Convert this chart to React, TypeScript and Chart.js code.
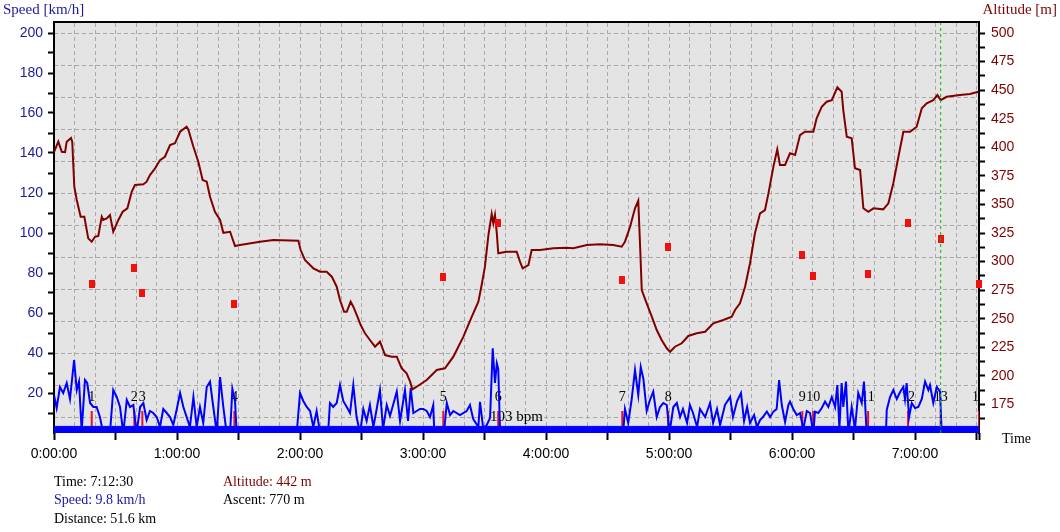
import React, { useEffect, useRef } from "react";
import { Chart, registerables } from "chart.js";

Chart.register(...registerables);

// ---------- data (time in minutes) ----------
const altitudeTime = [
  0, 2.1, 3.8, 5.4, 6.2, 8.3, 8.9, 9.9, 11.1, 13.0,
  14.8, 16.7, 18.4, 20.0, 21.6, 23.3, 24.0, 25.7, 27.3, 28.9,
  31.4, 33.5, 35.8, 37.9, 39.5, 43.6, 45.2, 46.8, 49.3, 51.7,
  54.1, 56.6, 59.0, 61.5, 64.7, 65.5, 68.0, 70.4, 72.5, 74.5,
  76.1, 78.5, 81.0, 82.6, 85.9, 88.3, 90.7, 100.5, 107.0, 119.2,
  120.3, 122.4, 126.5, 129.8, 133.0, 135.5, 137.9, 139.5, 141.5, 142.8,
  144.7, 146.0, 148.0, 149.6, 151.7, 154.1, 156.6, 159.0, 161.5, 164.7,
  167.2, 169.6, 172.0, 173.7, 174.8, 176.9, 181.8, 186.7, 190.7, 194.8,
  199.7, 203.8, 207.0, 208.6, 210.2, 211.9, 213.5, 214.3, 215.1, 216.0,
  216.7, 220.8, 225.7, 227.3, 228.6, 231.4, 233.0, 237.1, 243.6, 250.1,
  253.3, 259.9, 266.3, 272.8, 276.9, 278.5, 281.0, 283.4, 285.0, 285.9,
  286.7, 289.1, 291.6, 294.0, 296.4, 298.9, 300.5, 302.9, 306.2, 309.4,
  313.5, 317.6, 321.6, 326.5, 330.6, 332.2, 334.6, 337.1, 339.5, 341.9,
  344.4, 346.8, 348.5, 350.9, 352.8, 354.1, 356.6, 359.0, 361.5, 363.9,
  366.3, 370.4, 372.0, 374.5, 376.9, 379.4, 382.1, 384.2, 385.0, 386.7,
  389.1, 390.7, 393.2, 394.8, 397.2, 399.7, 404.5, 407.0, 409.4, 411.9,
  414.3, 417.6, 420.8, 423.3, 425.7, 428.9, 430.9, 432.5, 435.4, 441.9,
  446.8, 450.9,
];
const altitudeM = [
  395.8, 404.9, 396.1, 395.8, 404.9, 408.1, 404.9, 365.5, 353.9, 339.2,
  339.2, 320.3, 317.4, 321.7, 322.4, 339.2, 336.4, 337.8, 340.7, 326.1,
  336.4, 343.6, 346.6, 361.1, 367.0, 367.6, 369.9, 375.7, 381.6, 388.8,
  391.7, 402.0, 403.5, 413.6, 418.0, 415.7, 400.5, 387.4, 371.4, 369.9,
  356.7, 343.6, 336.4, 325.2, 326.1, 313.6, 314.5, 317.4, 318.9, 318.2,
  310.1, 301.4, 294.1, 291.1, 291.1, 286.8, 278.0, 266.4, 256.1, 256.1,
  264.9, 260.5, 251.8, 244.5, 237.2, 231.4, 225.5, 229.9, 218.2, 216.8,
  216.8, 206.6, 202.2, 194.9, 188.2, 190.5, 196.4, 205.1, 206.6, 216.8,
  234.3, 251.8, 264.9, 279.5, 295.5, 323.2, 341.6, 333.5, 340.7, 324.7,
  307.2, 308.6, 308.6, 299.9, 294.1, 297.0, 310.1, 310.1, 311.6, 312.1,
  311.6, 314.5, 315.1, 314.5, 313.0, 317.4, 330.5, 346.6, 353.2, 313.0,
  275.1, 263.5, 251.8, 240.1, 231.4, 224.1, 221.1, 225.5, 228.5, 234.9,
  237.2, 238.6, 246.0, 248.9, 251.8, 257.6, 263.5, 278.0, 298.5, 324.7,
  342.2, 345.1, 359.7, 383.0, 398.2, 384.5, 384.5, 394.7, 393.2, 410.7,
  413.6, 413.6, 425.3, 435.5, 439.9, 441.3, 452.5, 448.6, 432.6, 409.2,
  407.8, 381.6, 380.1, 346.6, 343.6, 346.6, 345.7, 351.0, 368.5, 391.7,
  413.6, 413.6, 418.0, 434.1, 438.5, 441.3, 445.7, 441.3, 444.2, 445.7,
  446.6, 448.6,
];

const speedTime = [
  0, 1.3, 2.9, 4.5, 6.2, 7.8, 9.8, 11.1, 12.2, 13.5,
  15.1, 16.2, 17.6, 19.2, 20.8, 22.4, 24.0, 25.7, 27.3, 28.9,
  30.6, 32.2, 33.8, 35.5, 37.1, 38.7, 40.3, 42.0, 43.6, 45.2,
  46.8, 48.4, 50.1, 51.7, 53.3, 55.0, 56.6, 58.2, 59.9, 61.5,
  63.1, 64.7, 66.3, 68.0, 69.6, 71.2, 72.8, 74.5, 76.1, 77.7,
  79.4, 81.0, 82.6, 84.2, 85.9, 87.0, 88.3, 89.1, 118.4, 120.0,
  121.6, 123.3, 124.9, 126.5, 128.1, 129.8, 133.7, 134.6, 136.2, 137.9,
  139.5, 141.1, 142.8, 144.4, 146.0, 147.6, 149.3, 150.9, 152.5, 154.1,
  155.8, 157.4, 159.0, 160.5, 162.3, 163.9, 165.4, 167.2, 168.8, 170.2,
  171.2, 172.7, 174.0, 175.3, 176.9, 178.5, 180.1, 181.8, 183.4, 185.0,
  185.5, 190.2, 191.6, 193.2, 194.8, 198.0, 201.3, 202.9, 204.5, 207.0,
  207.8, 209.4, 211.1, 212.7, 214.0, 215.1, 216.0, 216.7, 217.6, 277.6,
  278.5, 280.1, 281.8, 283.4, 285.0, 286.2, 287.5, 289.1, 290.7, 292.3,
  294.0, 295.6, 297.2, 298.9, 300.2, 302.1, 303.8, 305.4, 306.8, 308.8,
  310.2, 311.7, 313.7, 315.1, 317.6, 320.0, 321.5, 323.4, 324.9, 327.3,
  329.8, 331.2, 333.2, 335.1, 336.6, 338.1, 339.5, 341.5, 342.9, 344.4,
  345.8, 347.7, 349.3, 350.9, 352.5, 353.7, 355.0, 356.6, 358.2, 359.0,
  360.6, 362.3, 363.9, 365.5, 367.2, 368.8, 370.4, 371.2, 372.8, 374.5,
  376.1, 377.7, 379.4, 381.0, 382.1, 383.1, 384.2, 385.0, 386.3, 387.5,
  389.1, 390.7, 392.3, 394.0, 395.1, 396.4, 405.8, 406.2, 407.8, 409.4,
  411.1, 412.7, 414.3, 415.1, 415.9, 417.1, 418.4, 420.0, 421.6, 423.3,
  424.9, 426.5, 427.3, 428.9, 430.6, 432.2, 433.0, 451.2,
];
const speedKmh = [
  19, 12.5, 23, 20, 25, 17, 36.5, 21.5, 25.7, 1,
  26.5, 25, 15, 13, 13, 8, 0, 2, 0, 21.5,
  18, 13, 0, 16.5, 13, 14, 0, 13, 15, 6.5,
  11, 10, 8, 3, 12, 10, 8, 4, 12, 20,
  13, 8, 3, 18, 3, 13, 5, 23, 25.7, 13,
  0, 28, 13, 0, 0, 22, 16, 0, 0, 20,
  16, 13, 11, 3, 11, 0, 0, 15, 13, 15,
  24, 16, 13, 10, 24, 8, 0, 12, 6, 14,
  3, 12, 21.5, 2, 14, 8.5, 14, 20.7, 6, 15,
  21.5, 6, 22.5, 10, 11, 12, 12, 11, 8, 14,
  0, 0, 15, 9, 11, 9, 11, 14, 7, 3,
  15.6, 2, 4, 7.5, 42.3, 25, 34.8, 32, 0, 0,
  12, 5, 17, 31.5, 19, 33, 27, 11, 16.5, 20.7,
  8, 13, 15, 14, 0, 13, 15, 8, 12, 5,
  14, 10, 3, 12, 8, 15, 5, 12, 4, 14,
  18, 8, 16, 20, 6, 13, 5, 9, 3, 6.5,
  8, 10.7, 8, 10.7, 12, 26.5, 14, 5.5, 14, 15.7,
  12, 9, 10, 2, 11, 10, 0, 10.7, 10, 12.5,
  15.7, 13, 18, 13, 24, 2, 25, 13, 25.7, 0,
  13, 2, 20, 15, 25.7, 0, 0, 11.5, 18, 21.5,
  17, 20.5, 23, 17, 25, 8, 15, 12.5, 13, 17,
  25.7, 21.5, 24, 15, 23, 20.7, 0, 0,
];

const lapTime = [18.4, 39.2, 43.1, 88.0, 189.9, 216.7, 277.2, 299.6, 365.0, 370.3, 397.1, 416.6, 432.5, 451.2];
const lapMarkerValue = [74.4, 82.4, 69.9, 64.4, 77.9, 104.9, 76.5, 92.9, 88.9, 78.4, 79.5, 105, 97, 74.5];
const lapLabels = ["1", "2", "3", "4", "5", "6", "7", "8", "9", "10", "11", "12", "13", "14"];
const lapTickHeight = 11;
const lapLabelLevel = 18;

const stoppedBandLevel = 3.3;
const cursorTime = 432.5;
const hrNoteText = "103 bpm";
const hrNoteTime = 212.7;
const hrNoteLevel = 8.2;

const timeMax = 451.2;
const speedMin = 0;
const speedMax = 205;
const altMin = 150;
const altMax = 508.75;

const hourLabels = ["0:00:00", "1:00:00", "2:00:00", "3:00:00", "4:00:00", "5:00:00", "6:00:00", "7:00:00"];
const speedTickValues = [10, 20, 30, 40, 50, 60, 70, 80, 90, 100, 110, 120, 130, 140, 150, 160, 170, 180, 190, 200];
const altTickValues = [162.5, 175, 187.5, 200, 212.5, 225, 237.5, 250, 262.5, 275, 287.5, 300, 312.5, 325, 337.5, 350, 362.5, 375, 387.5, 400, 412.5, 425, 437.5, 450, 462.5, 475, 487.5, 500];
const gridTickValues = [0.5, 1.5, 2.5, 3.5, 4.5, 5.5, 6.5, 7.5, 8.5, 9.5, 10.5, 11.5, 12.5];
const gridMax = 12.8125;
const timeGridStep = 10;

const readoutLeft = ["Time: 7:12:30", "Speed: 9.8 km/h", "Distance: 51.6 km"];
const readoutLeftColors = ["#000000", "#1414a8", "#000000"];
const readoutRight = ["Altitude: 442 m", "Ascent: 770 m"];
const readoutRightColors = ["#800000", "#000000"];

const SPEED_COLOR = "#0000ff";
const ALT_COLOR = "#800000";
const SPEED_LABEL = "#1a1a9a";
const GRID = "#a9a9a9";

function buildTimeTicks() {
  const t: number[] = [];
  for (let v = 0; v <= timeMax; v += timeGridStep) t.push(v);
  if (t[t.length - 1] !== timeMax) t.push(timeMax);
  return t;
}

const decorPlugin = {
  id: "decor",
  beforeDraw(chart: any) {
    const { ctx, chartArea: a } = chart;
    ctx.save();
    ctx.fillStyle = "#e4e4e4";
    ctx.fillRect(a.left, a.top, a.right - a.left, a.bottom - a.top);
    ctx.restore();
  },
  beforeDatasetsDraw(chart: any) {
    const { ctx, chartArea: a, scales } = chart;
    ctx.save();
    ctx.beginPath();
    ctx.rect(a.left, a.top, a.right - a.left, a.bottom - a.top);
    ctx.clip();
    ctx.fillStyle = "#000";
    ctx.font = '14px "Liberation Serif", serif';
    ctx.textAlign = "center";
    ctx.textBaseline = "middle";
    lapTime.forEach((t, i) => {
      ctx.fillText(lapLabels[i], scales.x.getPixelForValue(t), scales.y.getPixelForValue(lapLabelLevel));
    });
    ctx.font = '15px "Liberation Serif", serif';
    ctx.textAlign = "left";
    ctx.fillText(hrNoteText, scales.x.getPixelForValue(hrNoteTime), scales.y.getPixelForValue(hrNoteLevel));
    ctx.restore();
  },
  afterDraw(chart: any) {
    const { ctx, chartArea: a } = chart;
    ctx.save();
    ctx.strokeStyle = "#000";
    ctx.lineWidth = 2;
    ctx.beginPath();
    ctx.moveTo(a.left - 1, a.top - 1);
    ctx.lineTo(a.right + 1, a.top - 1);
    ctx.stroke();

    ctx.textBaseline = "middle";
    ctx.font = '15px "Liberation Serif", serif';
    ctx.textAlign = "left";
    ctx.fillStyle = SPEED_LABEL;
    ctx.fillText("Speed [km/h]", 3, 10);
    ctx.textAlign = "right";
    ctx.fillStyle = ALT_COLOR;
    ctx.fillText("Altitude [m]", 1057, 10);

    ctx.font = '14px "Liberation Serif", serif';
    ctx.textAlign = "left";
    ctx.fillStyle = "#000";
    ctx.fillText("Time", 1002, 439);

    readoutLeft.forEach((s, i) => {
      ctx.fillStyle = readoutLeftColors[i];
      ctx.fillText(s, 54, 482 + i * 18.5);
    });
    readoutRight.forEach((s, i) => {
      ctx.fillStyle = readoutRightColors[i];
      ctx.fillText(s, 223, 482 + i * 18.5);
    });
    ctx.restore();
  },
};

export default function App() {
  const canvasRef = useRef<HTMLCanvasElement | null>(null);

  useEffect(() => {
    if (!canvasRef.current) return;
    Chart.defaults.font.family = '"Liberation Sans", Arial, sans-serif';

    const square = document.createElement("canvas");
    square.width = 6;
    square.height = 8;
    const sctx = square.getContext("2d");
    if (sctx) {
      sctx.fillStyle = "#f01010";
      sctx.fillRect(0, 0, 6, 8);
    }

    const timeTicks = buildTimeTicks();

    const lapLines: any[] = [];
    lapTime.forEach((t) => {
      lapLines.push({ x: t, y: speedMin });
      lapLines.push({ x: t, y: lapTickHeight });
      lapLines.push({ x: t, y: null });
    });

    const chart = new Chart(canvasRef.current, {
      type: "line",
      data: {
        datasets: [
          {
            label: "cursor",
            data: [
              { x: cursorTime, y: speedMin },
              { x: cursorTime, y: speedMax },
            ],
            borderColor: "#00c000",
            borderWidth: 1,
            borderDash: [3, 3],
            pointRadius: 0,
            yAxisID: "y",
            order: 0,
          },
          {
            label: "lap markers",
            data: lapTime.map((t, i) => ({ x: t, y: lapMarkerValue[i] })),
            showLine: false,
            pointStyle: square as any,
            pointRadius: 4,
            yAxisID: "y",
            order: 1,
            clip: 6,
          },
          {
            label: "Altitude",
            data: altitudeTime.map((t, i) => ({ x: t, y: altitudeM[i] })),
            borderColor: ALT_COLOR,
            borderWidth: 2,
            pointRadius: 0,
            yAxisID: "y2",
            order: 2,
          },
          {
            label: "stopped band",
            data: [
              { x: 0, y: stoppedBandLevel },
              { x: timeMax, y: stoppedBandLevel },
            ],
            borderColor: SPEED_COLOR,
            borderWidth: 1,
            backgroundColor: SPEED_COLOR,
            fill: "origin",
            pointRadius: 0,
            yAxisID: "y",
            order: 3,
          },
          {
            label: "Speed",
            data: speedTime.map((t, i) => ({ x: t, y: speedKmh[i] })),
            borderColor: SPEED_COLOR,
            borderWidth: 2,
            pointRadius: 0,
            yAxisID: "y",
            order: 4,
          },
          {
            label: "laps",
            data: lapLines,
            borderColor: "#e8102a",
            borderWidth: 2,
            pointRadius: 0,
            spanGaps: false,
            yAxisID: "y",
            order: 5,
          },
        ],
      },
      options: {
        animation: false,
        responsive: true,
        maintainAspectRatio: false,
        events: [],
        layout: { padding: { top: 23, left: 0, right: 0, bottom: 0 } },
        elements: { line: { tension: 0 } },
        plugins: { legend: { display: false }, tooltip: { enabled: false } },
        scales: {
          x: {
            type: "linear",
            min: 0,
            max: timeMax,
            afterBuildTicks: (s: any) => {
              s.ticks = timeTicks.map((v) => ({ value: v }));
            },
            afterFit: (s: any) => {
              s.height = 99;
            },
            ticks: {
              autoSkip: false,
              maxRotation: 0,
              minRotation: 0,
              padding: 6,
              color: "#000",
              font: { size: 14 },
              callback: (v: any) => (v % 60 === 0 ? hourLabels[v / 60] : ""),
            },
            grid: {
              color: (c: any) =>
                c.tick && (c.tick.value === 0 || c.tick.value === timeMax) ? "rgba(0,0,0,0)" : GRID,
              lineWidth: 1,
              tickLength: 7,
              tickWidth: 2,
              tickColor: (c: any) =>
                c.tick && (c.tick.value % 30 === 0 || c.tick.value === timeMax) ? "#000" : "rgba(0,0,0,0)",
            },
            border: { display: false, dash: [4, 3] },
          },
          y: {
            type: "linear",
            position: "left",
            min: speedMin,
            max: speedMax,
            afterBuildTicks: (s: any) => {
              s.ticks = speedTickValues.map((v) => ({ value: v }));
            },
            afterFit: (s: any) => {
              s.width = 54;
            },
            ticks: {
              autoSkip: false,
              padding: 5,
              color: SPEED_LABEL,
              font: { size: 14 },
              callback: (v: any) => (v % 20 === 0 ? String(v) : ""),
            },
            grid: { drawOnChartArea: false, tickLength: 6, tickWidth: 2, tickColor: "#000" },
            border: { display: true, color: "#000", width: 2 },
          },
          y2: {
            type: "linear",
            position: "right",
            min: altMin,
            max: altMax,
            afterBuildTicks: (s: any) => {
              s.ticks = altTickValues.map((v) => ({ value: v }));
            },
            afterFit: (s: any) => {
              s.width = 81;
            },
            ticks: {
              autoSkip: false,
              padding: 6,
              color: ALT_COLOR,
              font: { size: 14 },
              callback: (v: any) => (v % 25 === 0 ? String(v) : ""),
            },
            grid: { drawOnChartArea: false, tickLength: 6, tickWidth: 2, tickColor: "#000" },
            border: { display: true, color: "#000", width: 2 },
          },
          g: {
            type: "linear",
            position: "right",
            min: 0,
            max: gridMax,
            afterBuildTicks: (s: any) => {
              s.ticks = gridTickValues.map((v) => ({ value: v }));
            },
            afterFit: (s: any) => {
              s.width = 0;
            },
            ticks: { display: false },
            grid: { drawTicks: false, color: GRID, lineWidth: 1 },
            border: { display: false, dash: [4, 3] },
          },
        },
      } as any,
      plugins: [decorPlugin],
    } as any);

    return () => chart.destroy();
  }, []);

  return (
    <div style={{ position: "absolute", left: 0, top: 0, width: 1060, height: 532, background: "#fff" }}>
      <canvas ref={canvasRef} />
    </div>
  );
}
